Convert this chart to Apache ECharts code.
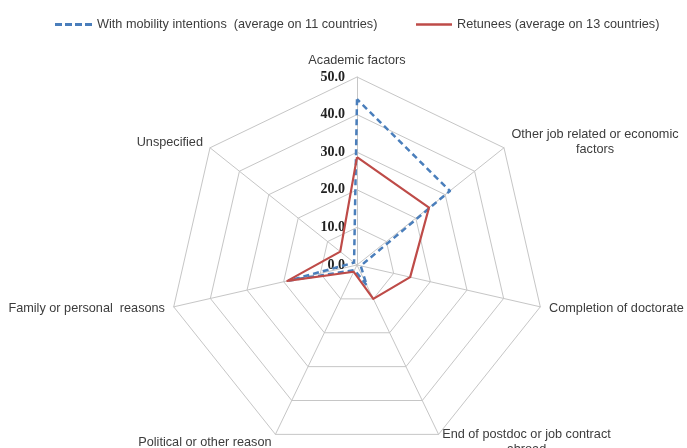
<!DOCTYPE html>
<html>
<head>
<meta charset="utf-8">
<script src="https://cdn.jsdelivr.net/npm/echarts@6/dist/echarts.min.js"></script>
<style>
html,body{margin:0;padding:0;background:#fff;}
#chart{width:687px;height:448px;}
</style>
</head>
<body>
<div id="chart"></div>
<script>
// Categories in clockwise order starting at the top
const categories = [
  'Academic factors',
  'Other job related or economic\nfactors',
  'Completion of doctorate',
  'End of postdoc or job contract\nabroad',
  'Political or other reason',
  'Family or personal  reasons',
  'Unspecified'
];
const mobilityValues = [44.1, 31.6, 1.0, 6.0, 1.5, 18.5, 1.0];
const retuneesValues = [28.7, 24.5, 14.5, 10.0, 2.0, 19.0, 5.7];
const seriesNames = [
  'With mobility intentions  (average on 11 countries)',
  'Retunees (average on 13 countries)'
];
const axisTicks = ['0.0', '10.0', '20.0', '30.0', '40.0', '50.0'];
const axisMax = 50;

// ECharts places radar indicators counter-clockwise; reorder clockwise data
const ccwOrder = [0, 6, 5, 4, 3, 2, 1];
const toCCW = arr => ccwOrder.map(i => arr[i]);

const BLUE = '#4a7ebb';
const RED = '#be4b48';
const TXT = '#3c3c3c';
const FS = 12.7;

const indicators = toCCW(categories).map((name, i) => {
  const ind = { name: name, min: 0, max: axisMax };
  if (i === 0) {
    ind.axisLabel = {
      show: true,
      margin: 12,
      fontFamily: 'Liberation Serif',
      fontWeight: 'bold',
      fontSize: 14,
      color: '#222',
      formatter: function (v) { return axisTicks[Math.round(v / 10)]; }
    };
  }
  return ind;
});

const chart = echarts.init(document.getElementById('chart'));
chart.setOption({
  animation: false,
  backgroundColor: '#ffffff',
  legend: [
    {
      left: 55, top: 18, padding: 0,
      itemWidth: 37, itemHeight: 3, itemGap: 0,
      textStyle: { color: TXT, fontSize: FS, fontFamily: 'Liberation Sans' },
      data: [{ name: seriesNames[0], icon: 'path://M0 0h7v3h-7z M10 0h7v3h-7z M20 0h7v3h-7z M30 0h7v3h-7z' }]
    },
    {
      left: 416, top: 18, padding: 0,
      itemWidth: 36, itemHeight: 3, itemGap: 0,
      textStyle: { color: TXT, fontSize: FS, fontFamily: 'Liberation Sans' },
      data: [{ name: seriesNames[1], icon: 'path://M0 0h40v3h-40z' }]
    }
  ],
  radar: {
    center: [357, 265],
    radius: 188,
    startAngle: 90,
    splitNumber: 5,
    shape: 'polygon',
    nameGap: 9,
    axisName: {
      color: TXT,
      fontSize: FS,
      fontFamily: 'Liberation Sans',
      lineHeight: 15,
      formatter: function (name) {
        if (name.indexOf('\n') >= 0) {
          return name.split('\n').map(s => '{c|' + s + '}').join('\n');
        }
        return name;
      },
      rich: {
        c: { align: 'center', width: 168, color: TXT, fontSize: FS, fontFamily: 'Liberation Sans', lineHeight: 15 }
      }
    },
    axisLine: { lineStyle: { color: '#c6c6c6', width: 1 } },
    splitLine: { lineStyle: { color: '#c6c6c6', width: 1 } },
    splitArea: { show: false },
    axisTick: { show: false },
    indicator: indicators
  },
  series: [
    {
      type: 'radar',
      name: seriesNames[0],
      symbol: 'none',
      color: BLUE,
      lineStyle: { color: BLUE, width: 2.5, type: [6, 4] },
      data: [{ name: seriesNames[0], value: toCCW(mobilityValues) }]
    },
    {
      type: 'radar',
      name: seriesNames[1],
      symbol: 'none',
      color: RED,
      lineStyle: { color: RED, width: 2.2 },
      data: [{ name: seriesNames[1], value: toCCW(retuneesValues) }]
    }
  ]
});
</script>
</body>
</html>
